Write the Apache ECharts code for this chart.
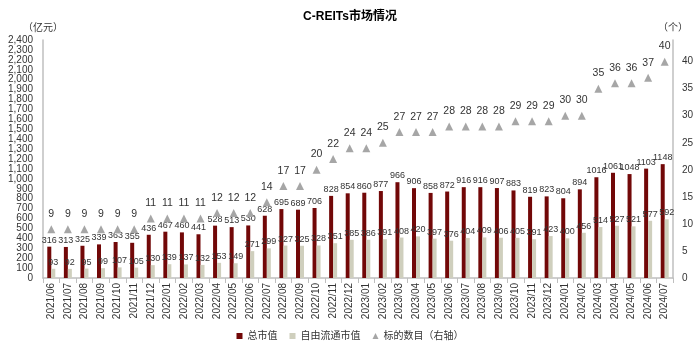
<!DOCTYPE html>
<html>
<head>
<meta charset="utf-8">
<script src="https://cdn.jsdelivr.net/npm/echarts@6/dist/echarts.min.js"></script>
<style>
  html, body { margin: 0; padding: 0; background: #fff; }
  #main { width: 700px; height: 352px; }
</style>
</head>
<body>
<div id="main"></div>
<script>
  // 月份
  var months = ['2021/06','2021/07','2021/08','2021/09','2021/10','2021/11','2021/12',
    '2022/01','2022/02','2022/03','2022/04','2022/05','2022/06','2022/07','2022/08','2022/09','2022/10','2022/11','2022/12',
    '2023/01','2023/02','2023/03','2023/04','2023/05','2023/06','2023/07','2023/08','2023/09','2023/10','2023/11','2023/12',
    '2024/01','2024/02','2024/03','2024/04','2024/05','2024/06','2024/07'];
  // 总市值（亿元）
  var totalCap = [316,313,325,339,363,355,436,
    467,460,441,528,513,530,628,695,689,706,828,854,
    860,877,966,906,858,872,916,916,907,883,819,823,
    804,894,1016,1061,1048,1103,1148];
  // 自由流通市值（亿元）
  var floatCap = [93,92,95,99,107,105,130,
    139,137,132,153,149,271,299,327,325,328,351,385,
    386,391,408,420,397,376,404,409,406,405,391,423,
    400,456,514,527,521,577,592];
  // 标的数目（个）
  var reitCount = [9,9,9,9,9,9,11,
    11,11,11,12,12,12,14,17,17,20,22,24,
    24,25,27,27,27,28,28,28,28,29,29,29,
    30,30,35,36,36,37,40];

  var font = 'Liberation Sans, Arial, "Noto Sans CJK SC", sans-serif';
  var axisGray = '#bfbfbf';

  var option = {
    textStyle: { fontFamily: font },
    title: {
      text: 'C-REITs市场情况',
      left: 'center',
      top: 6,
      textStyle: { fontSize: 12, fontWeight: 'bold', color: '#000', fontFamily: font }
    },
    legend: {
      bottom: 6,
      left: 'center',
      itemGap: 12,
      itemWidth: 6,
      itemHeight: 6,
      textStyle: { fontSize: 10, color: '#333', fontFamily: font },
      data: [
        { name: '总市值', icon: 'rect' },
        { name: '自由流通市值', icon: 'rect' },
        { name: '标的数目（右轴）', icon: 'triangle' }
      ]
    },
    grid: { left: 43, right: 27, top: 40, bottom: 74 },
    xAxis: [{
      type: 'category',
      data: months,
      axisLine: { lineStyle: { color: axisGray, width: 1.5 } },
      axisTick: { show: true, lineStyle: { color: axisGray } },
      axisLabel: { rotate: 90, interval: 0, fontSize: 10, color: '#333', margin: 5 }
    }],
    yAxis: [{
      type: 'value',
      min: 0,
      max: 2400,
      interval: 100,
      name: '（亿元）',
      nameGap: 7,
      nameTextStyle: { fontSize: 10, color: '#333', align: 'center' },
      splitLine: { show: false },
      axisLine: { show: true, lineStyle: { color: axisGray, width: 1.5 } },
      axisTick: { show: false },
      axisLabel: {
        fontSize: 10, color: '#333', margin: 10,
        formatter: function (v) { return v.toLocaleString('en-US'); }
      }
    }, {
      type: 'value',
      min: 0,
      max: 44,
      interval: 5,
      name: '（个）',
      nameGap: 7,
      nameTextStyle: { fontSize: 10, color: '#333', align: 'center' },
      splitLine: { show: false },
      axisLine: { show: true, lineStyle: { color: axisGray, width: 1.5 } },
      axisTick: { show: false },
      axisLabel: {
        fontSize: 10, color: '#333', margin: 9,
        formatter: function (v) { return v % 5 === 0 ? v : ''; }
      }
    }],
    series: [{
      name: '总市值',
      type: 'bar',
      data: totalCap,
      barWidth: 4,
      barGap: '0%',
      itemStyle: { color: '#720808' },
      label: { show: true, position: 'top', distance: 2, fontSize: 9, color: '#333' }
    }, {
      name: '自由流通市值',
      type: 'bar',
      data: floatCap,
      barWidth: 4,
      barGap: '0%',
      itemStyle: { color: '#cfcfbd' },
      label: { show: true, position: 'top', distance: 2, fontSize: 9, color: '#333' }
    }, {
      name: '标的数目（右轴）',
      type: 'line',
      yAxisIndex: 1,
      data: reitCount,
      symbol: 'triangle',
      symbolSize: 8,
      lineStyle: { width: 0, opacity: 0 },
      itemStyle: { color: '#a6a6a6' },
      label: { show: true, position: 'top', distance: 6, fontSize: 10.5, color: '#333' },
      z: 5
    }]
  };

  echarts.init(document.getElementById('main')).setOption(option);
</script>
</body>
</html>
